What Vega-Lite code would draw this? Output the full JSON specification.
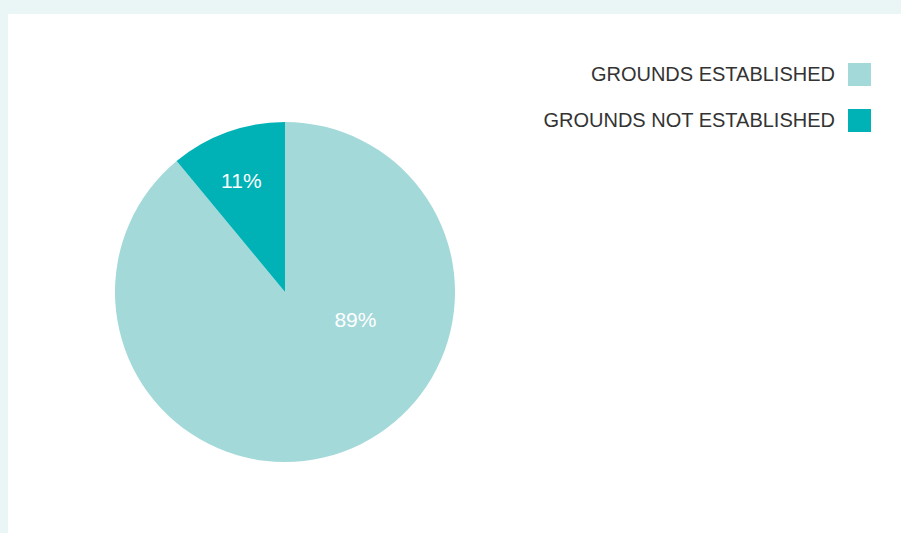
{
  "$schema": "https://vega.github.io/schema/vega-lite/v6.json",
  "autosize": {"type": "none"},
  "padding": {"left": 8, "top": 14, "right": 0, "bottom": 0},
  "width": 893,
  "height": 519,
  "background": "#eaf5f5",
  "data": {
    "values": [
      {"label": "GROUNDS ESTABLISHED", "value": 89, "pct": "89%"},
      {"label": "GROUNDS NOT ESTABLISHED", "value": 11, "pct": "11%"}
    ]
  },
  "encoding": {
    "theta": {"field": "value", "type": "quantitative", "stack": true},
    "order": {"field": "label", "sort": "ascending"},
    "x": {"value": 277},
    "y": {"value": 278}
  },
  "layer": [
    {
      "mark": {"type": "arc", "radius": 170, "stroke": null},
      "encoding": {
        "color": {
          "field": "label",
          "type": "nominal",
          "scale": {"domain": ["GROUNDS ESTABLISHED", "GROUNDS NOT ESTABLISHED"], "range": ["#a4d9da", "#00b2b6"]},
          "legend": {
            "title": null,
            "orient": "none",
            "legendX": 840,
            "legendY": 49,
            "symbolType": "square",
            "symbolSize": 529,
            "symbolStrokeWidth": 0,
            "symbolOpacity": 1,
            "labelAlign": "right",
            "labelOffset": -36,
            "labelFontSize": 20,
            "labelFont": "Liberation Sans",
            "labelColor": "#333333",
            "labelLimit": 500,
            "rowPadding": 23,
            "padding": 0
          }
        }
      }
    },
    {
      "mark": {"type": "text", "radius": 120, "dx": -3, "dy": 3, "fill": "white", "fontSize": 21, "font": "Liberation Sans", "align": "center", "baseline": "middle"},
      "encoding": {
        "detail": {"field": "label"},
        "text": {"condition": {"test": "datum.label === 'GROUNDS NOT ESTABLISHED'", "field": "pct"}, "value": ""}
      }
    },
    {
      "mark": {"type": "text", "radius": 75, "dx": 45, "dy": -42, "fill": "white", "fontSize": 21, "font": "Liberation Sans", "align": "center", "baseline": "middle"},
      "encoding": {
        "detail": {"field": "label"},
        "text": {"condition": {"test": "datum.label === 'GROUNDS ESTABLISHED'", "field": "pct"}, "value": ""}
      }
    }
  ],
  "config": {
    "view": {"fill": "white", "stroke": null}
  }
}
